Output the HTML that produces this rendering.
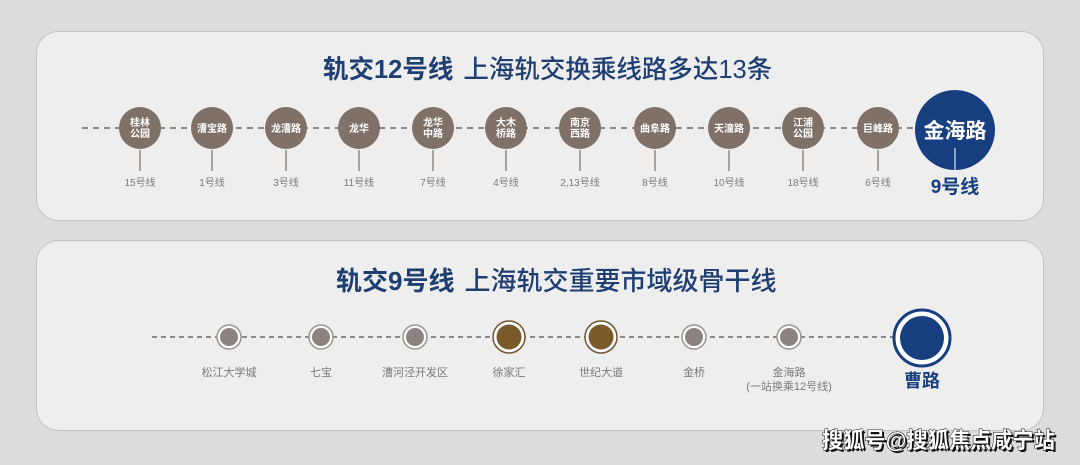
<!DOCTYPE html>
<html><head><meta charset="utf-8"><style>
html,body{margin:0;padding:0;background:#dcdcdc;}
svg{display:block;}
text{font-family:"Liberation Sans","Noto Sans CJK SC",sans-serif;}
</style></head><body>
<svg width="1080" height="465" viewBox="0 0 1080 465" xmlns="http://www.w3.org/2000/svg">
<rect width="1080" height="465" fill="#dcdcdc"/>
<rect x="36.5" y="31.5" width="1007" height="189" rx="22" fill="#eeeeee" stroke="#c4c4c4"/>
<rect x="36.5" y="240.5" width="1007" height="190" rx="22" fill="#eeeeee" stroke="#c4c4c4"/>

<text x="323" y="78" font-size="25.5" fill="#1f3f72"><tspan font-weight="bold">轨交12号线</tspan><tspan dx="10" font-weight="500">上海轨交换乘线路多达13条</tspan></text>

<line x1="82" y1="128" x2="930" y2="128" stroke="#8a8a8a" stroke-width="2" stroke-dasharray="6,5"/>
<g fill="#7f7168" stroke="none">
<g stroke="#a8a09a" stroke-width="2">
<line x1="140" y1="150" x2="140" y2="171"/><line x1="212" y1="150" x2="212" y2="171"/><line x1="286" y1="150" x2="286" y2="171"/><line x1="359" y1="150" x2="359" y2="171"/><line x1="433" y1="150" x2="433" y2="171"/><line x1="506" y1="150" x2="506" y2="171"/><line x1="580" y1="150" x2="580" y2="171"/><line x1="655" y1="150" x2="655" y2="171"/><line x1="729" y1="150" x2="729" y2="171"/><line x1="803" y1="150" x2="803" y2="171"/><line x1="878" y1="150" x2="878" y2="171"/>
</g>
<circle cx="140" cy="128" r="21"/><circle cx="212" cy="128" r="21"/><circle cx="286" cy="128" r="21"/><circle cx="359" cy="128" r="21"/><circle cx="433" cy="128" r="21"/><circle cx="506" cy="128" r="21"/><circle cx="580" cy="128" r="21"/><circle cx="655" cy="128" r="21"/><circle cx="729" cy="128" r="21"/><circle cx="803" cy="128" r="21"/><circle cx="878" cy="128" r="21"/>
</g>
<g fill="#fff" font-size="10" font-weight="bold" text-anchor="middle">
<text x="140" y="126">桂林</text><text x="140" y="137">公园</text>
<text x="212" y="132">漕宝路</text>
<text x="286" y="132">龙漕路</text>
<text x="359" y="132">龙华</text>
<text x="433" y="126">龙华</text><text x="433" y="137">中路</text>
<text x="506" y="126">大木</text><text x="506" y="137">桥路</text>
<text x="580" y="126">南京</text><text x="580" y="137">西路</text>
<text x="655" y="132">曲阜路</text>
<text x="729" y="132">天潼路</text>
<text x="803" y="126">江浦</text><text x="803" y="137">公园</text>
<text x="878" y="132">巨峰路</text>
</g>
<g fill="#7a7a7a" font-size="10" text-anchor="middle">
<text x="140" y="186">15号线</text><text x="212" y="186">1号线</text><text x="286" y="186">3号线</text><text x="359" y="186">11号线</text><text x="433" y="186">7号线</text><text x="506" y="186">4号线</text><text x="580" y="186">2,13号线</text><text x="655" y="186">8号线</text><text x="729" y="186">10号线</text><text x="803" y="186">18号线</text><text x="878" y="186">6号线</text>
</g>
<circle cx="955" cy="130" r="40" fill="#173f80"/>
<line x1="955" y1="148" x2="955" y2="170" stroke="#8fa0c0" stroke-width="2"/>
<text x="955" y="138" fill="#fff" font-size="21" font-weight="bold" text-anchor="middle">金海路</text>
<text x="955" y="193" fill="#173f80" font-size="19" font-weight="bold" text-anchor="middle">9号线</text>

<text x="336" y="290" font-size="26" fill="#1f3f72"><tspan font-weight="bold">轨交9号线</tspan><tspan dx="10" font-weight="500">上海轨交重要市域级骨干线</tspan></text>
<line x1="152" y1="337" x2="895" y2="337" stroke="#8a8a8a" stroke-width="2" stroke-dasharray="5,4"/>
<g fill="#8c837e" stroke="#9b9490" stroke-width="1.5">
<circle cx="229" cy="337" r="12" fill="#fff"/><circle cx="229" cy="337" r="9" stroke="none"/>
<circle cx="321" cy="337" r="12" fill="#fff"/><circle cx="321" cy="337" r="9" stroke="none"/>
<circle cx="415" cy="337" r="12" fill="#fff"/><circle cx="415" cy="337" r="9" stroke="none"/>
<circle cx="694" cy="337" r="12" fill="#fff"/><circle cx="694" cy="337" r="9" stroke="none"/>
<circle cx="789" cy="337" r="12" fill="#fff"/><circle cx="789" cy="337" r="9" stroke="none"/>
</g>
<g stroke="#6e5530" stroke-width="1.5">
<circle cx="509" cy="337" r="16" fill="#fff"/><circle cx="509" cy="337" r="12.5" fill="#7a5a2a" stroke="none"/>
<circle cx="601" cy="337" r="16" fill="#fff"/><circle cx="601" cy="337" r="12.5" fill="#7a5a2a" stroke="none"/>
</g>
<circle cx="922" cy="338" r="28" fill="#fff" stroke="#173f80" stroke-width="3"/>
<circle cx="922" cy="338" r="22" fill="#173f80"/>
<g fill="#7a7a7a" font-size="11" text-anchor="middle">
<text x="229" y="376">松江大学城</text><text x="321" y="376">七宝</text><text x="415" y="376">漕河泾开发区</text><text x="509" y="376">徐家汇</text><text x="601" y="376">世纪大道</text><text x="694" y="376">金桥</text><text x="789" y="376">金海路</text><text x="789" y="390">(一站换乘12号线)</text>
</g>
<text x="922" y="387" fill="#173f80" font-size="18" font-weight="bold" text-anchor="middle">曹路</text>
<text x="824" y="450" font-size="22" font-weight="bold" fill="#111" textLength="233" lengthAdjust="spacingAndGlyphs">搜狐号@搜狐焦点咸宁站</text>
<text x="822" y="448" font-size="22" font-weight="bold" fill="#fff" stroke="#111" stroke-width="1" style="paint-order:stroke" textLength="233" lengthAdjust="spacingAndGlyphs">搜狐号@搜狐焦点咸宁站</text>
</svg>
</body></html>
